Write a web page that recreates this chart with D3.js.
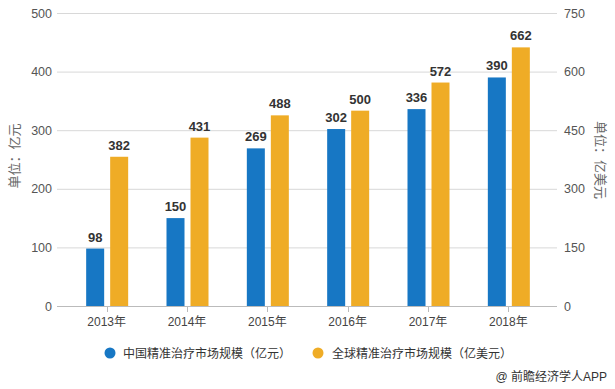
<!DOCTYPE html>
<html><head><meta charset="utf-8">
<script src="https://cdn.jsdelivr.net/npm/d3@7"></script>
<style>
body{margin:0;background:#fff;}
svg{display:block;font-family:"Liberation Sans","Noto Sans CJK SC",sans-serif;}
</style></head>
<body><svg id="c" width="615" height="389"></svg>
<script>
const categories = ["2013年","2014年","2015年","2016年","2017年","2018年"];
const chinaValues = [98,150,269,302,336,390];
const globalValues = [382,431,488,500,572,662];
const leftTicks = [0,100,200,300,400,500];
const rightTicks = [0,150,300,450,600,750];
const seriesNames = ["中国精准治疗市场规模（亿元）","全球精准治疗市场规模（亿美元）"];
const colors = ["#1777c4","#efac26"];

const svg = d3.select("#c");
const plotTop = 13, plotBottom = 306, gl = 57, gr = 557;
const x = d3.scaleBand().domain(categories).range([66.5, 548.5]).padding(0);
const yL = d3.scaleLinear().domain([0,500]).range([plotBottom, plotTop]);
const yR = d3.scaleLinear().domain([0,750]).range([plotBottom, plotTop]);

// gridlines
svg.append("g").selectAll("line").data(leftTicks.slice(1)).join("line")
  .attr("x1", gl).attr("x2", gr).attr("y1", d=>yL(d)+0.5).attr("y2", d=>yL(d)+0.5)
  .attr("stroke", "#d8d8d8").attr("stroke-width", 1);

// left axis labels
svg.append("g").selectAll("text").data(leftTicks).join("text")
  .attr("x", 52).attr("y", d=>yL(d)+4.5).attr("text-anchor","end")
  .attr("font-size", 12.5).attr("fill","#555").text(d=>d);
// right axis labels
svg.append("g").selectAll("text").data(rightTicks).join("text")
  .attr("x", 564).attr("y", d=>yR(d)+4.5).attr("text-anchor","start")
  .attr("font-size", 12.5).attr("fill","#555").text(d=>d);

// bars
const bw = 18;
const g = svg.append("g");
g.selectAll("rect.cn").data(chinaValues).join("rect").attr("class","cn")
  .attr("x",(d,i)=>x(categories[i])+x.bandwidth()/2-20.5).attr("width",bw)
  .attr("y",d=>yL(d)).attr("height",d=>plotBottom-yL(d)).attr("fill",colors[0]);
g.selectAll("rect.gl").data(globalValues).join("rect").attr("class","gl")
  .attr("x",(d,i)=>x(categories[i])+x.bandwidth()/2+3.5).attr("width",bw)
  .attr("y",d=>yR(d)).attr("height",d=>plotBottom-yR(d)).attr("fill",colors[1]);

// value labels
g.selectAll("text.cnl").data(chinaValues).join("text").attr("class","cnl")
  .attr("x",(d,i)=>x(categories[i])+x.bandwidth()/2-20.5+bw/2).attr("y",d=>yL(d)-7)
  .attr("text-anchor","middle").attr("font-size",13).attr("font-weight","bold").attr("fill","#333").text(d=>d);
g.selectAll("text.gll").data(globalValues).join("text").attr("class","gll")
  .attr("x",(d,i)=>x(categories[i])+x.bandwidth()/2+3.5+bw/2).attr("y",d=>yR(d)-7)
  .attr("text-anchor","middle").attr("font-size",13).attr("font-weight","bold").attr("fill","#333").text(d=>d);

// x axis
svg.append("line").attr("x1",gl).attr("x2",gr).attr("y1",plotBottom+0.5).attr("y2",plotBottom+0.5)
  .attr("stroke","#bbb").attr("stroke-width",1);
svg.append("g").selectAll("line").data(categories).join("line")
  .attr("x1",d=>Math.round(x(d)+x.bandwidth()/2)+0.5).attr("x2",d=>Math.round(x(d)+x.bandwidth()/2)+0.5)
  .attr("y1",plotBottom).attr("y2",plotBottom+6).attr("stroke","#bbb");
svg.append("g").selectAll("text").data(categories).join("text")
  .attr("x",d=>x(d)+x.bandwidth()/2).attr("y",326).attr("text-anchor","middle")
  .attr("font-size",12).attr("fill","#444").text(d=>d);

// axis titles
svg.append("text").attr("transform","translate(19,156) rotate(-90)").attr("text-anchor","middle")
  .attr("font-size",13).attr("fill","#666").text("单位：亿元");
svg.append("text").attr("transform","translate(596,160) rotate(90)").attr("text-anchor","middle")
  .attr("font-size",13).attr("fill","#666").text("单位：亿美元");

// legend
const leg = [{cx:110, tx:123},{cx:318, tx:332}];
leg.forEach((l,i)=>{
  svg.append("circle").attr("cx",l.cx).attr("cy",353).attr("r",5.5).attr("fill",colors[i]);
  svg.append("text").attr("x",l.tx).attr("y",357.5).attr("font-size",12).attr("fill","#333").text(seriesNames[i]);
});

// source
svg.append("text").attr("x",607).attr("y",381).attr("text-anchor","end")
  .attr("font-size",12).attr("fill","#333").text("@ 前瞻经济学人APP");
</script></body></html>
